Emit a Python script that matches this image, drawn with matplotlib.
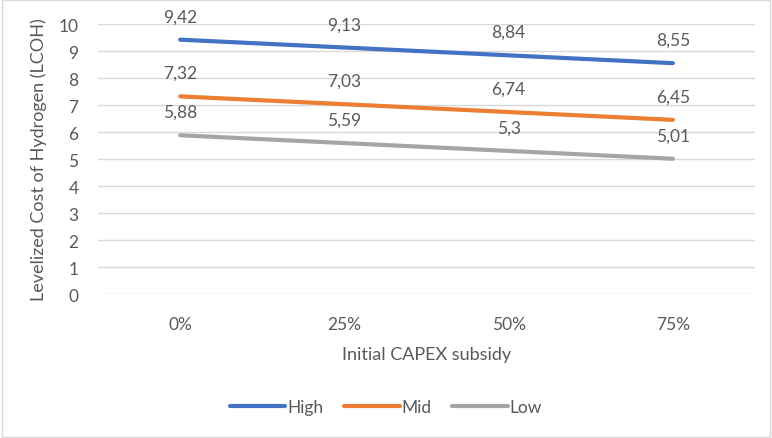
import matplotlib
matplotlib.use("Agg")
import matplotlib.pyplot as plt

categories = ["0%", "25%", "50%", "75%"]
high = [9.42, 9.13, 8.84, 8.55]
mid = [7.32, 7.03, 6.74, 6.45]
low = [5.88, 5.59, 5.30, 5.01]
series = [("High", high, "#4472C4"), ("Mid", mid, "#ED7D31"), ("Low", low, "#A5A5A5")]

plt.rcParams["font.family"] = ["Lato", "DejaVu Sans"]
text_col = "#595959"

fig = plt.figure(figsize=(7.72, 4.39), dpi=100)
ax = fig.add_axes([0.127, 0.328, 0.851, 0.615])

x = range(len(categories))
for name, vals, col in series:
    ax.plot(x, vals, color=col, lw=3, solid_capstyle="round", label=name)
    for xi, v in zip(x, vals):
        lbl = f"{v:g}".replace(".", ",")
        ax.annotate(lbl, (xi, v), xytext=(0, 11), textcoords="offset points",
                    ha="center", va="bottom", fontsize=12.5, color=text_col)

ax.set_xlim(-0.5, 3.5)
ax.set_ylim(0, 10)
ax.set_yticks(range(0, 11))
ax.set_xticks(list(x))
ax.set_xticklabels(categories)
ax.grid(axis="y", color="#D9D9D9", lw=1)
ax.set_axisbelow(True)
for s in ax.spines.values():
    s.set_visible(False)
ax.tick_params(length=0, labelsize=12.5, labelcolor=text_col)
ax.tick_params(axis="x", pad=16)
ax.tick_params(axis="y", pad=14)

ax.set_xlabel("Initial CAPEX subsidy", fontsize=13, color=text_col, labelpad=10)
ax.set_ylabel("Levelized Cost of Hydrogen (LCOH)", fontsize=13, color=text_col, labelpad=8)

fig.legend(loc="center", bbox_to_anchor=(0.5, 1 - 408 / 439), ncol=3, frameon=False,
           fontsize=12.5, labelcolor=text_col, handlelength=3.2, handletextpad=0.1,
           columnspacing=1.2)

border = plt.Rectangle((0.002, 0.002), 0.996, 0.996, transform=fig.transFigure,
                       fill=False, edgecolor="#D9D9D9", lw=1)
fig.patches.append(border)

fig.savefig("out.png", dpi=100)
